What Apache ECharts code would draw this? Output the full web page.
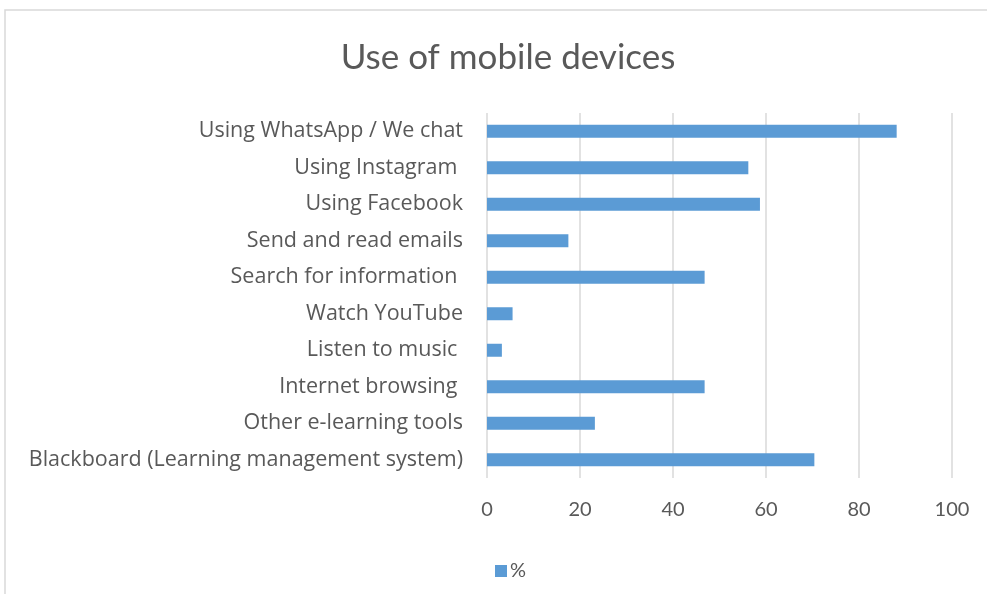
<!DOCTYPE html>
<html>
<head>
<meta charset="utf-8">
<script src="https://cdn.jsdelivr.net/npm/echarts@6/dist/echarts.min.js"></script>
<style>html,body{margin:0;padding:0;background:#fff}#c{width:987px;height:594px}</style>
</head>
<body>
<div id="c"></div>
<script>
var categories = [
  "Using WhatsApp / We chat",
  "Using Instagram ",
  "Using Facebook",
  "Send and read emails",
  "Search for information ",
  "Watch YouTube",
  "Listen to music ",
  "Internet browsing ",
  "Other e-learning tools",
  "Blackboard (Learning management system)"
];
var percentValues = [88.1, 56.2, 58.7, 17.5, 46.8, 5.5, 3.2, 46.8, 23.2, 70.4];
var seriesName = "%";
var titleText = "Use of mobile devices";

var chart = echarts.init(document.getElementById('c'), null, {renderer: 'canvas'});
var fontFam = 'Lato, "Open Sans", sans-serif';
var labelFam = '"Open Sans", Lato, sans-serif';
chart.setOption({
  backgroundColor: '#ffffff',
  animation: false,
  textStyle: {fontFamily: fontFam},
  title: {
    text: titleText,
    left: 503,
    textAlign: 'center',
    top: 35,
    textStyle: {fontFamily: fontFam, fontSize: 35, fontWeight: 'normal', color: '#595959'}
  },
  graphic: [{
    type: 'rect',
    shape: {x: 5, y: 10, width: 1100, height: 700},
    style: {fill: 'none', stroke: '#D9D9D9', lineWidth: 1.5},
    silent: true
  }],
  legend: {
    data: [seriesName],
    left: 490,
    top: 556,
    icon: 'rect',
    itemWidth: 12,
    itemHeight: 12,
    itemGap: 6,
    textStyle: {fontFamily: fontFam, fontSize: 20, color: '#595959', padding: [0, 0, 0, -2]}
  },
  grid: {left: 487, right: 35, top: 113, bottom: 116, containLabel: false},
  xAxis: {
    type: 'value',
    min: 0,
    max: 100,
    interval: 20,
    axisLine: {show: false},
    axisTick: {show: false},
    axisLabel: {fontFamily: fontFam, fontSize: 20, color: '#595959', margin: 22},
    splitLine: {show: true, lineStyle: {color: '#D9D9D9', width: 1.5}}
  },
  yAxis: {
    type: 'category',
    inverse: true,
    data: categories,
    axisLine: {show: false},
    axisTick: {show: false},
    axisLabel: {fontFamily: labelFam, fontSize: 21.5, color: '#595959', margin: 24}
  },
  series: [{
    name: seriesName,
    type: 'bar',
    data: percentValues,
    barWidth: 13,
    itemStyle: {color: '#5B9BD5'}
  }]
});
</script>
</body>
</html>
